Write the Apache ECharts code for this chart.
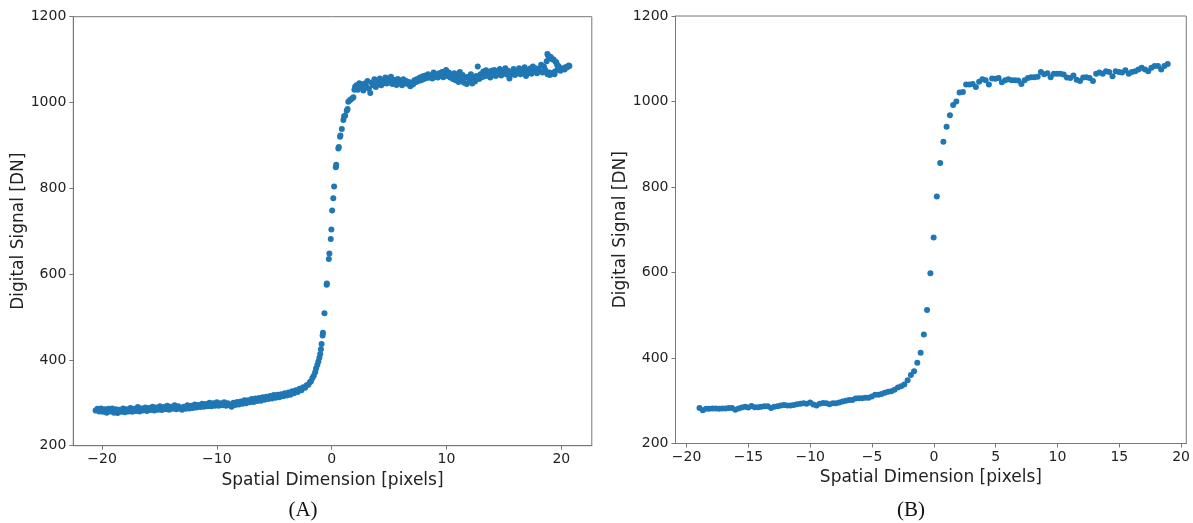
<!DOCTYPE html>
<html>
<head>
<meta charset="utf-8">
<script src="https://cdn.jsdelivr.net/npm/echarts@6/dist/echarts.min.js"></script>
<style>
html,body{margin:0;padding:0;background:#fff;}
#c{width:1193px;height:523px;}
</style>
</head>
<body>
<div id="c"></div>
<script>
// ---- Data ----
const xTicksA = [-20, -10, 0, 10, 20];
const xTicksB = [-20, -15, -10, -5, 0, 5, 10, 15, 20];
const captions = ['(A)', '(B)'];
const xTitle = 'Spatial Dimension [pixels]';
const yTitle = 'Digital Signal [DN]';

// Panel A: lower plateau
const panelA_low = [
[-20.56,282],[-20.40,286],[-20.24,280],[-20.08,287],[-19.92,279],[-19.76,285],[-19.60,277],[-19.44,286],[-19.28,280],[-19.12,287],
[-18.96,277],[-18.80,285],[-18.64,276],[-18.48,284],[-18.32,279],[-18.16,287],[-18.00,278],[-17.84,285],[-17.68,280],[-17.52,288],
[-17.36,279],[-17.20,286],[-17.04,281],[-16.88,290],[-16.72,280],[-16.56,287],[-16.40,282],[-16.24,289],[-16.08,281],[-15.92,288],
[-15.76,283],[-15.60,291],[-15.44,282],[-15.28,289],[-15.12,284],[-14.96,292],[-14.80,283],[-14.64,290],[-14.48,285],[-14.32,293],
[-14.16,284],[-14.00,291],[-13.84,286],[-13.68,294],[-13.52,285],[-13.36,292],[-13.20,287],[-13.04,284],[-12.88,291],[-12.72,286],
[-12.56,294],[-12.40,287],[-12.24,293],[-12.08,288],[-11.92,296],[-11.76,289],[-11.60,295],[-11.44,290],[-11.28,298],[-11.12,291],
[-10.96,297],[-10.80,292],[-10.64,300],[-10.48,292],[-10.32,299],[-10.16,293],[-10.00,301],[-9.84,293],[-9.68,299],[-9.52,294],
[-9.36,301],[-9.20,293],[-9.04,299],[-8.88,294],[-8.72,291],[-8.56,300],[-8.40,295],[-8.24,302],[-8.08,296],[-7.92,303],
[-7.76,298],[-7.60,306],[-7.44,299],[-7.28,306],[-7.12,301],[-6.96,309],[-6.80,302],[-6.64,310],[-6.48,304],[-6.32,311],
[-6.16,305],[-6.00,313],[-5.84,307],[-5.68,314],[-5.52,309],[-5.36,316],[-5.20,310],[-5.04,318],[-4.88,312],[-4.72,319]
];
// Panel A: edge transition
const panelA_edge = [
[-4.56,313],[-4.40,320],[-4.24,315],[-4.08,322],[-3.92,317],[-3.76,324],[-3.60,319],[-3.44,327],[-3.28,322],[-3.12,329],
[-2.96,325],[-2.80,333],[-2.64,329],[-2.48,336],[-2.32,335],[-2.18,341],[-2.03,342],[-1.90,348],[-1.80,350],[-1.68,358],
[-1.56,363],[-1.44,371],[-1.36,380],[-1.25,388],[-1.16,396],[-1.07,405],[-1.00,414],[-0.94,425],[-0.88,437],[-0.79,457],
[-0.76,463],[-0.63,509],[-0.44,575],[-0.42,578],[-0.25,635],[-0.20,648],[-0.08,682],[-0.03,704],[0.04,748],[0.14,777],
[0.21,804],[0.36,849],[0.39,855],[0.58,893],[0.62,896],[0.73,920],[0.76,923],[0.88,938],[1.02,959],[1.08,968],
[1.17,969],[1.31,981],[1.38,985],[1.45,1002],[1.58,1005],[1.66,1007],[1.80,1010],[1.89,1012],[1.98,1030],[2.04,1037]
];
// Panel A: upper plateau
const panelA_high = [
[2.16,1040],[2.28,1030],[2.40,1045],[2.52,1036],[2.64,1042],[2.76,1028],[2.88,1044],[3.00,1038],[3.12,1050],[3.24,1032],
[3.36,1022],[3.48,1046],[3.60,1040],[3.72,1054],[3.84,1036],[3.96,1048],[4.08,1042],[4.20,1056],[4.32,1040],[4.44,1050],
[4.56,1045],[4.68,1058],[4.80,1044],[4.92,1052],[5.04,1047],[5.16,1060],[5.28,1043],[5.40,1053],[5.52,1048],[5.64,1041],
[5.76,1055],[5.88,1046],[6.00,1051],[6.12,1040],[6.24,1054],[6.36,1045],[6.48,1050],[6.60,1043],[6.72,1048],[6.84,1038],
[6.96,1046],[7.08,1042],[7.20,1052],[7.32,1047],[7.44,1055],[7.56,1050],[7.68,1058],[7.80,1052],[7.92,1061],[8.04,1055],
[8.16,1063],[8.28,1057],[8.40,1066],[8.52,1058],[8.64,1062],[8.76,1056],[8.88,1070],[9.00,1060],[9.12,1066],[9.24,1058],
[9.36,1068],[9.48,1062],[9.60,1071],[9.72,1059],[9.84,1066],[9.96,1076],[10.08,1062],[10.20,1070],[10.32,1058],[10.44,1066],
[10.56,1055],[10.68,1068],[10.80,1052],[10.92,1062],[11.04,1048],[11.16,1071],[11.28,1055],[11.40,1064],[11.52,1046],[11.64,1058],
[11.76,1043],[11.88,1060],[12.00,1050],[12.12,1066],[12.24,1044],[12.36,1058],[12.48,1049],[12.60,1062],[12.72,1084],[12.84,1055],
[12.96,1066],[13.08,1059],[13.20,1072],[13.32,1061],[13.44,1075],[13.56,1063],[13.68,1070],[13.80,1058],[13.92,1074],[14.04,1064],
[14.16,1076],[14.28,1062],[14.40,1070],[14.52,1066],[14.64,1078],[14.76,1063],[14.88,1072],[15.00,1068],[15.12,1080],[15.24,1065],
[15.36,1074],[15.48,1056],[15.60,1070],[15.72,1066],[15.84,1078],[15.96,1064],[16.08,1073],[16.20,1069],[16.32,1080],[16.44,1066],
[16.56,1075],[16.68,1071],[16.80,1082],[16.92,1062],[17.04,1074],[17.16,1069],[17.28,1079],[17.40,1067],[17.52,1084],[17.64,1072],
[17.76,1080],[17.88,1068],[18.00,1078],[18.12,1073],[18.24,1088],[18.36,1070],[18.48,1084],[18.60,1076],[18.72,1096],[18.84,1110],
[18.96,1070],[19.08,1106],[19.20,1068],[19.32,1100],[19.44,1072],[19.56,1093],[19.68,1078],[19.80,1082],[19.92,1074],[20.04,1078],
[20.16,1080],[20.28,1077],[20.40,1083],[20.52,1082],[20.64,1086],[20.70,1085],
[18.78,1113],[18.90,1106],[19.00,1104],[19.14,1102],[19.26,1100],[19.50,1095],[19.62,1088],[19.74,1085],
[18.80,1066],[19.00,1064],[19.40,1066]
];

// Panel B
const panelB_x = [
-18.96,-18.69,-18.43,-18.17,-17.90,-17.64,-17.38,-17.12,-16.85,-16.59,-16.33,-16.06,-15.80,-15.54,-15.27,-15.01,-14.75,-14.49,-14.22,-13.96,
-13.70,-13.43,-13.17,-12.91,-12.64,-12.38,-12.12,-11.86,-11.59,-11.33,-11.07,-10.80,-10.54,-10.28,-10.01,-9.75,-9.49,-9.23,-8.96,-8.70,
-8.44,-8.17,-7.91,-7.65,-7.38,-7.12,-6.86,-6.60,-6.33,-6.07,-5.81,-5.54,-5.28,-5.02,-4.75,-4.49,-4.23,-3.97,-3.70,-3.44,
-3.18,-2.91,-2.65,-2.39,-2.12,-1.86,-1.60,-1.34,-1.07,-0.81,-0.55,-0.28,-0.02,0.24,0.51,0.77,1.03,1.30,1.56,1.82,
2.08,2.35,2.61,2.87,3.14,3.40,3.66,3.93,4.19,4.45,4.71,4.98,5.24,5.50,5.77,6.03,6.29,6.56,6.82,7.08,
7.34,7.61,7.87,8.13,8.40,8.66,8.92,9.19,9.45,9.71,9.97,10.24,10.50,10.76,11.03,11.29,11.55,11.82,12.08,12.34,
12.60,12.87,13.13,13.39,13.66,13.92,14.18,14.45,14.71,14.97,15.23,15.50,15.76,16.02,16.29,16.55,16.81,17.08,17.34,17.60,
17.86,18.13,18.39,18.65,18.92
];
const panelB_y = [
283,278,281,281,282,282,281,282,282,283,283,279,282,284,286,284,288,285,285,286,
287,287,283,286,287,289,290,289,289,290,292,293,294,293,296,291,289,293,295,294,
292,294,294,296,298,300,302,302,305,306,306,307,307,310,314,314,316,319,321,322,
326,331,334,338,348,360,369,389,412,455,512,598,682,778,856,906,941,968,992,1000,
1021,1022,1040,1040,1041,1034,1046,1052,1050,1040,1054,1053,1055,1045,1050,1052,1050,1050,1049,1041,
1050,1055,1057,1057,1058,1069,1064,1066,1057,1065,1065,1065,1063,1056,1055,1061,1051,1048,1056,1057,
1055,1048,1065,1068,1065,1071,1069,1059,1071,1069,1068,1073,1065,1069,1071,1075,1079,1075,1071,1079,
1083,1083,1075,1083,1088
];

const panelA = panelA_low.concat(panelA_edge, panelA_high);
const panelB = panelB_x.map((x, i) => [x, panelB_y[i]]);

// ---- Chart ----
const FONT = '"DejaVu Sans", sans-serif';
const minusFmt = v => (v < 0 ? '\u2212' + Math.abs(v) : String(v));
const spine = '#777';
const txt = '#222';

function xAxisDef(gridIndex, min, max, ticks) {
  return {
    type: 'value', gridIndex, min, max,
    name: xTitle, nameLocation: 'middle', nameGap: 18,
    nameTextStyle: { fontFamily: FONT, fontSize: 17, color: txt },
    axisLine: { show: true, onZero: false, lineStyle: { color: spine, width: 1 } },
    axisTick: { show: true, inside: false, length: 4, customValues: ticks, lineStyle: { color: spine } },
    axisLabel: { show: true, customValues: ticks, margin: 7, fontFamily: FONT, fontSize: 14, color: txt, formatter: minusFmt },
    splitLine: { show: false }
  };
}
function yAxisDef(gridIndex) {
  return {
    type: 'value', gridIndex, min: 200, max: 1200, interval: 200,
    name: yTitle, nameLocation: 'middle', nameGap: 35, nameRotate: 90,
    nameTextStyle: { fontFamily: FONT, fontSize: 17, color: txt },
    axisLine: { show: true, onZero: false, lineStyle: { color: spine, width: 1 } },
    axisTick: { show: true, inside: false, length: 4, lineStyle: { color: spine } },
    axisLabel: { show: true, margin: 7, fontFamily: FONT, fontSize: 14, color: txt, formatter: v => String(v) },
    splitLine: { show: false }
  };
}

const chart = echarts.init(document.getElementById('c'), null, { renderer: 'canvas' });
chart.setOption({
  animation: false,
  backgroundColor: '#fff',
  grid: [
    { left: 73.3, top: 16.7, width: 518.5, height: 429, show: true, borderColor: spine, borderWidth: 1, containLabel: false },
    { left: 675.5, top: 16, width: 516.5, height: 427.5, show: true, borderColor: spine, borderWidth: 1, containLabel: false }
  ],
  xAxis: [ xAxisDef(0, -22.5, 22.65, xTicksA), xAxisDef(1, -20.9, 20.42, xTicksB) ],
  yAxis: [ yAxisDef(0), yAxisDef(1) ],
  series: [
    { type: 'scatter', xAxisIndex: 0, yAxisIndex: 0, data: panelA, symbolSize: 6,
      itemStyle: { color: '#1f77b4', opacity: 1 } },
    { type: 'scatter', xAxisIndex: 1, yAxisIndex: 1, data: panelB, symbolSize: 6,
      itemStyle: { color: '#1f77b4', opacity: 1 } }
  ],
  graphic: [
    { type: 'text', x: 303, y: 510, style: { text: captions[0], fontFamily: '"Liberation Serif", serif', fontSize: 21, fill: '#111', align: 'center', verticalAlign: 'middle' } },
    { type: 'text', x: 911, y: 510, style: { text: captions[1], fontFamily: '"Liberation Serif", serif', fontSize: 21, fill: '#111', align: 'center', verticalAlign: 'middle' } }
  ]
});
</script>
</body>
</html>
